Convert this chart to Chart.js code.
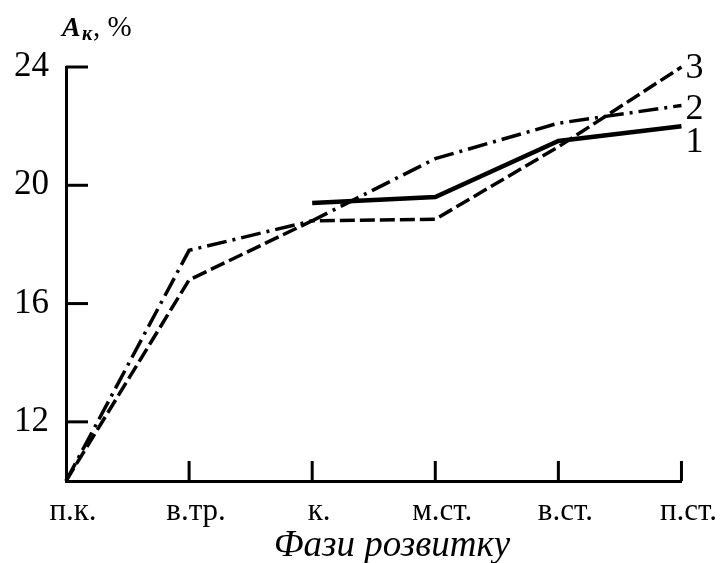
<!DOCTYPE html>
<html>
<head>
<meta charset="utf-8">
<script src="https://cdn.jsdelivr.net/npm/chart.js@4/dist/chart.umd.min.js"></script>
<style>
  body { margin: 0; background: #fff; }
  canvas { display: block; }
</style>
</head>
<body>
<canvas id="chart" width="722" height="563"></canvas>
<script>
// Daten
const phases = ['п.к.', 'в.тр.', 'к.', 'м.ст.', 'в.ст.', 'п.ст.'];
const line1 = [null, null, 19.4, 19.6, 21.5, 22.0];
const line2 = [10, 17.8, 18.8, 20.9, 22.1, 22.7];
const line3 = [10, 16.8, 18.8, 18.85, 21.3, 24.0];
const yTicks = [12, 16, 20, 24];

const serif = "'Liberation Serif', 'DejaVu Serif', serif";

// Innere Teilstriche, Kurvennummern, Achsentitel
const decorPlugin = {
    id: 'decor',
    afterDraw(chart) {
        const ctx = chart.ctx;
        const xs = chart.scales.x;
        const ys = chart.scales.y;
        const area = chart.chartArea;

        ctx.save();
        ctx.strokeStyle = '#000';
        ctx.lineWidth = 3;
        yTicks.forEach(v => {
            const y = ys.getPixelForValue(v);
            ctx.beginPath();
            ctx.moveTo(area.left, y);
            ctx.lineTo(area.left + 22, y);
            ctx.stroke();
        });
        for (let i = 1; i < phases.length; i++) {
            const x = xs.getPixelForValue(i);
            ctx.beginPath();
            ctx.moveTo(x, area.bottom);
            ctx.lineTo(x, area.bottom - 20);
            ctx.stroke();
        }

        // Kurvennummern
        ctx.fillStyle = '#000';
        ctx.font = '36px ' + serif;
        ctx.textAlign = 'left';
        ctx.textBaseline = 'middle';
        const offsets = { '1': 16, '2': 4, '3': 2 };
        chart.data.datasets.forEach((ds, i) => {
            const meta = chart.getDatasetMeta(i);
            const pt = meta.data[meta.data.length - 1];
            ctx.fillText(ds.label, pt.x + 4, pt.y + offsets[ds.label]);
        });

        // Titel der x-Achse
        ctx.textAlign = 'center';
        ctx.font = 'italic 37px ' + serif;
        ctx.fillText('Фази розвитку', 392, 546);

        // A_к, %
        ctx.textAlign = 'left';
        ctx.textBaseline = 'alphabetic';
        ctx.font = 'italic bold 28px ' + serif;
        ctx.fillText('A', 62, 36);
        ctx.font = 'italic bold 20px ' + serif;
        ctx.fillText('к', 82, 40);
        ctx.font = '29px ' + serif;
        ctx.fillText(', %', 93, 36);
        ctx.restore();
    }
};

const ctx = document.getElementById('chart').getContext('2d');
const chartInstance = new Chart(ctx, {
    type: 'line',
    data: {
        labels: phases,
        datasets: [
            {
                label: '1',
                data: line1,
                borderColor: '#000',
                borderWidth: 4.5,
                pointRadius: 0,
                tension: 0,
                clip: false
            },
            {
                label: '2',
                data: line2,
                borderColor: '#000',
                borderWidth: 3.5,
                borderDash: [20, 6, 3, 6],
                pointRadius: 0,
                tension: 0,
                clip: false
            },
            {
                label: '3',
                data: line3,
                borderColor: '#000',
                borderWidth: 3.5,
                borderDash: [15, 5],
                pointRadius: 0,
                tension: 0,
                clip: false
            }
        ]
    },
    options: {
        responsive: false,
        animation: false,
        devicePixelRatio: 1,
        layout: {
            padding: { left: 0, right: 40, top: 67, bottom: 0 }
        },
        plugins: {
            legend: { display: false },
            tooltip: { enabled: false }
        },
        scales: {
            x: {
                offset: false,
                grid: { display: false, drawTicks: false },
                border: { display: true, color: '#000', width: 3 },
                ticks: {
                    color: '#000',
                    font: { family: serif, size: 31 },
                    padding: 12,
                    labelOffset: 7,
                    maxRotation: 0,
                    autoSkip: false
                },
                afterFit: scale => { scale.height = 82; }
            },
            y: {
                min: 10,
                max: 24,
                grid: { display: false, drawTicks: false },
                border: { display: true, color: '#000', width: 3 },
                ticks: {
                    color: '#000',
                    font: { family: serif, size: 35 },
                    padding: 17
                },
                afterBuildTicks: axis => {
                    axis.ticks = yTicks.map(v => ({ value: v }));
                },
                afterFit: scale => { scale.width = 66; }
            }
        }
    },
    plugins: [decorPlugin]
});
</script>
</body>
</html>
